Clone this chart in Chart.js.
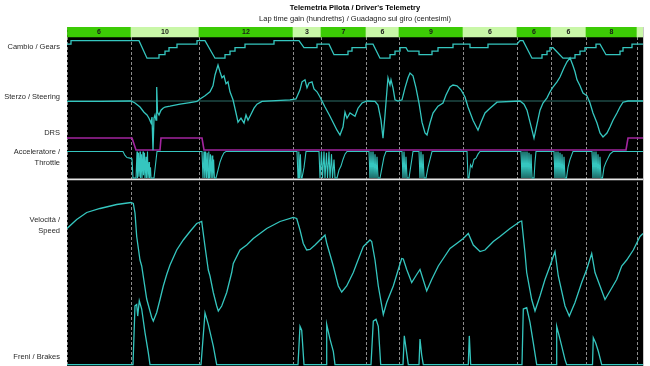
<!DOCTYPE html>
<html>
<head>
<meta charset="utf-8">
<title>Telemetria Pilota / Driver's Telemetry</title>
<script src="https://cdn.jsdelivr.net/npm/chart.js@4.4.1/dist/chart.umd.min.js"></script>
<style>
    body { margin: 0; background: #fff; }
    #wrap { width: 650px; height: 366px; }
</style>
</head>
<body>
<div id="wrap"><canvas id="telemetry" width="650" height="366"></canvas></div>
<script>
// distance along the lap, metres
const lapLength = 5760;

// mini sectors: where each one ends, and the gain written in the green strip
const sectorEnds = [640, 1320, 2260, 2540, 2990, 3320, 3960, 4500, 4840, 5190, 5700, 5760];
const sectorGain = ['6', '10', '12', '3', '7', '6', '9', '6', '6', '6', '8', ''];

// [distance, gear]
const gears = [
    [0,7],[40,7],[40,8],[720,8],[800,3],[920,3],[920,4],[980,4],[980,5],[1020,5],[1020,6],[1100,6],[1100,7],
    [1300,7],[1300,8],[1380,8],[1480,3],[1580,3],[1580,4],[1630,4],[1630,5],[1680,5],[1680,6],[1780,6],[1780,7],
    [2070,7],[2070,8],[2320,8],[2370,6],[2500,6],[2500,7],[2620,7],[2670,4],[2810,4],[2810,5],[2850,5],[2850,6],
    [2990,6],[2990,7],[3060,7],[3130,3],[3230,3],[3230,4],[3280,4],[3280,5],[3330,5],[3330,6],[3390,6],[3410,5],
    [3520,5],[3520,4],[3650,4],[3650,5],[3710,5],[3710,6],[3860,6],[3860,7],[4030,7],[4030,6],[4210,6],[4210,7],
    [4500,7],[4530,8],[4560,8],[4650,3],[4750,3],[4750,4],[4800,4],[4800,5],[4830,5],[4830,6],[4860,6],[4960,3],
    [5080,3],[5080,4],[5130,4],[5130,5],[5180,5],[5180,6],[5290,6],[5290,7],[5330,7],[5390,4],[5530,4],[5530,5],
    [5560,5],[5560,6],[5650,6],[5650,7],[5760,7]
];

// [distance, steering angle in degrees, left positive]
const steering = [
    [0,-1],[330,-1],[640,0],[680,-5],[730,-15],[770,-28],[800,-35],[820,-43],[840,-55],[850,-40],[860,-123],
    [870,-43],[880,-35],[890,-48],[897,35],[905,-28],[920,-35],[940,-23],[960,-18],[980,-15],[1030,-13],
    [1130,-8],[1230,-4],[1300,-1],[1330,5],[1380,13],[1430,23],[1460,38],[1480,65],[1510,90],[1530,73],
    [1550,58],[1570,63],[1590,43],[1610,48],[1630,23],[1660,3],[1690,-30],[1710,-53],[1740,-43],[1770,-55],
    [1790,-35],[1810,-48],[1840,-33],[1870,-18],[1900,-8],[1950,-1],[2230,3],[2290,5],[2330,28],[2350,48],
    [2380,53],[2400,33],[2420,45],[2450,48],[2470,30],[2500,23],[2530,10],[2580,-15],[2630,-38],[2700,-73],
    [2730,-85],[2760,-65],[2780,-28],[2800,-43],[2830,-30],[2880,-38],[2910,-18],[2950,-5],[3000,0],[3080,-1],
    [3110,-10],[3140,-48],[3160,-93],[3180,-35],[3200,28],[3210,58],[3230,40],[3240,53],[3260,33],[3280,3],
    [3310,0],[3350,3],[3380,33],[3410,58],[3430,70],[3460,63],[3490,33],[3520,-5],[3550,-53],[3580,-80],
    [3600,-85],[3630,-55],[3660,-30],[3710,-13],[3760,-5],[3790,15],[3830,35],[3860,40],[3900,38],[3940,28],
    [3980,10],[4010,-15],[4060,-48],[4110,-73],[4140,-53],[4180,-30],[4230,-18],[4300,-3],[4530,0],[4570,-8],
    [4600,-23],[4630,-53],[4670,-93],[4700,-58],[4730,-23],[4760,-5],[4800,8],[4830,23],[4860,35],[4900,48],
    [4930,60],[4970,83],[5000,98],[5030,108],[5060,88],[5080,73],[5100,53],[5130,38],[5160,20],[5200,13],
    [5230,-5],[5260,-30],[5300,-55],[5330,-80],[5360,-90],[5400,-80],[5430,-65],[5460,-48],[5500,-30],
    [5530,-15],[5560,-3],[5610,0],[5760,0]
];
const steeringZero = [[0,0],[5760,0]];

// [distance, DRS open 1 / closed 0]
const drs = [[0,1],[650,1],[690,0],[930,0],[940,1],[1350,1],[1370,0],[5590,0],[5610,1],[5760,1]];

// [distance, throttle %]
const throttle = [
    [0,100],[560,100],[580,85],[600,77],[630,75],[650,72],[660,0],[690,0],[700,100],[705,0],[715,95],[720,5],
    [730,100],[735,0],[745,90],[750,0],[760,100],[765,10],[775,95],[780,0],[790,80],[795,0],[805,100],[810,0],
    [820,60],[825,0],[835,40],[840,0],[870,0],[885,50],[900,100],
    [1350,100],[1360,0],[1370,100],[1378,0],[1386,100],[1394,0],[1402,95],[1410,0],[1418,100],[1426,0],
    [1434,90],[1442,0],[1450,85],[1458,0],[1466,70],[1474,0],[1490,0],[1510,30],[1530,60],[1550,80],[1570,95],[1590,100],
    [2300,100],[2310,0],[2318,100],[2326,0],[2334,90],[2342,0],[2350,0],[2370,40],[2390,100],
    [2520,100],[2530,0],[2545,100],[2555,0],[2570,100],[2580,0],[2595,95],[2605,0],[2620,100],[2630,0],
    [2645,90],[2655,0],[2670,70],[2680,0],[2700,0],[2720,30],[2740,45],[2760,70],[2780,90],[2800,100],
    [3020,100],[3030,0],[3040,100],[3050,0],[3060,100],[3070,0],[3080,90],[3090,0],[3100,80],[3110,0],
    [3130,0],[3150,40],[3170,80],[3190,100],
    [3350,100],[3360,0],[3370,100],[3380,0],[3390,80],[3400,0],[3420,0],[3440,50],[3460,100],
    [3520,100],[3530,0],[3540,100],[3550,0],[3560,90],[3570,0],[3590,0],[3610,40],[3630,70],[3650,100],
    [4000,100],[4010,0],[4020,0],[4035,50],[4050,40],[4070,70],[4090,75],[4110,90],[4130,100],
    [4540,100],[4550,0],[4560,100],[4570,0],[4580,100],[4590,0],[4600,100],[4610,0],[4620,95],[4630,0],
    [4640,90],[4650,0],[4670,0],[4680,60],[4690,100],
    [4870,100],[4880,0],[4890,100],[4900,0],[4910,100],[4920,0],[4930,95],[4940,0],[4950,90],[4960,0],
    [4970,80],[4980,0],[4995,0],[5010,40],[5030,70],[5050,90],[5060,100],
    [5250,100],[5260,0],[5270,100],[5280,0],[5290,100],[5300,0],[5310,90],[5320,0],[5330,80],[5340,0],
    [5355,0],[5370,40],[5390,60],[5410,75],[5430,90],[5460,100],
    [5760,100]
];
const throttleFloor = [[0,-5],[5760,-5]];

// [distance, speed km/h]
const speed = [
    [0,267],[97,285],[197,299],[330,307],[497,315],[640,319],[663,317],[680,298],[697,251],[730,204],[747,192],
    [797,126],[847,89],[863,82],[897,99],[930,125],[963,152],[997,175],[1030,194],[1097,224],[1163,244],
    [1230,261],[1297,277],[1347,281],[1380,231],[1413,184],[1430,172],[1463,139],[1497,112],[1513,102],
    [1547,112],[1597,139],[1647,179],[1663,197],[1730,224],[1797,234],[1863,247],[1997,267],[2130,281],
    [2263,289],[2297,287],[2330,264],[2363,237],[2397,224],[2430,225],[2480,234],[2530,244],[2580,254],
    [2597,238],[2663,192],[2713,152],[2747,140],[2797,152],[2863,179],[2897,197],[2963,231],[3030,244],
    [3047,241],[3080,204],[3113,152],[3163,95],[3197,119],[3263,152],[3313,185],[3347,207],[3363,206],
    [3397,185],[3447,159],[3497,175],[3530,185],[3597,142],[3647,165],[3713,192],[3763,207],[3830,227],
    [3897,237],[3963,247],[4013,257],[4063,234],[4130,221],[4180,224],[4263,241],[4330,251],[4430,267],
    [4530,281],[4547,282],[4580,218],[4597,179],[4647,125],[4680,102],[4730,132],[4780,165],[4830,192],
    [4880,221],[4913,172],[4980,112],[5023,92],[5080,119],[5147,159],[5197,185],[5247,217],[5280,179],
    [5330,152],[5380,125],[5430,142],[5497,165],[5547,192],[5597,204],[5663,224],[5730,251],[5760,257]
];

// [distance, brake pressure %]
const brakes = [
    [0,0],[660,0],[680,92],[697,94],[707,76],[723,100],[747,87],[780,50],[813,19],[830,0],
    [1340,0],[1380,81],[1413,63],[1463,29],[1497,0],
    [2310,0],[2330,60],[2347,54],[2370,0],
    [2590,0],[2597,63],[2630,40],[2663,21],[2680,0],
    [3040,0],[3063,68],[3090,71],[3113,60],[3137,0],
    [3360,0],[3373,45],[3390,26],[3413,0],
    [3520,0],[3530,40],[3547,15],[3563,0],
    [4013,0],[4023,45],[4037,0],
    [4550,0],[4563,87],[4597,89],[4630,66],[4663,34],[4697,0],
    [4890,0],[4897,60],[4930,40],[4980,8],[4997,0],
    [5255,0],[5263,42],[5287,34],[5313,21],[5347,0],
    [5760,0]
];

const FONT = 'Liberation Sans, Arial, sans-serif';
const CYAN = '#35c6bf';

// every trace shares the full plot height; each hidden axis is ranged so its
// trace sits in its own band (two reference values -> two pixel rows)
const AREA_TOP = 27, AREA_H = 339;
function band(v1, p1, v2, p2) {
    const k = (v1 - v2) / (p2 - p1);
    const max = v1 + (p1 - AREA_TOP) * k;
    return { type: 'linear', display: false, offset: false, min: max - AREA_H * k, max: max };
}

const sectorStarts = [0].concat(sectorEnds.slice(0, -1));
const sectorBars = sectorEnds.map((end, i) => ({ x: [sectorStarts[i], end], y: 0 }));

const blackPlot = {
    id: 'blackPlot',
    beforeDraw(chart) {
        const { ctx, chartArea: a } = chart;
        ctx.save();
        ctx.fillStyle = '#000';
        ctx.fillRect(a.left, a.top, a.right - a.left, a.bottom - a.top);
        ctx.strokeStyle = '#c8c8c8';
        ctx.lineWidth = 1;
        ctx.beginPath();
        ctx.moveTo(a.right + 0.5, a.top);
        ctx.lineTo(a.right + 0.5, a.bottom);
        ctx.stroke();
        ctx.restore();
    }
};

const stripText = {
    id: 'stripText',
    afterDatasetsDraw(chart) {
        const { ctx, scales } = chart;
        const y = scales.yBar.getPixelForValue(0);
        ctx.save();
        ctx.font = 'bold 7px ' + FONT;
        ctx.fillStyle = '#1a1a1a';
        ctx.textAlign = 'center';
        ctx.textBaseline = 'middle';
        sectorGain.forEach((g, i) => {
            const x = scales.x.getPixelForValue((sectorStarts[i] + sectorEnds[i]) / 2);
            ctx.fillText(g, x, y + 0.5);
        });
        ctx.restore();
    }
};

const panelNames = {
    id: 'panelNames',
    afterDraw(chart) {
        const { ctx, scales, chartArea } = chart;
        const names = [
            { axis: 'yGear', at: 6.3, text: ['Cambio / Gears'] },
            { axis: 'ySteer', at: 10, text: ['Sterzo / Steering'] },
            { axis: 'yDrs', at: 1.39, text: ['DRS'] },
            { axis: 'yThr', at: 79, text: ['Acceleratore /', 'Throttle'] },
            { axis: 'ySpeed', at: 274, text: ['Velocità /', 'Speed'] },
            { axis: 'yBrake', at: 12, text: ['Freni / Brakes'] }
        ];
        ctx.save();
        ctx.font = '7.5px ' + FONT;
        ctx.fillStyle = '#2a2a2a';
        ctx.textAlign = 'right';
        ctx.textBaseline = 'middle';
        names.forEach(n => {
            const yc = scales[n.axis].getPixelForValue(n.at);
            const top = yc - (n.text.length - 1) * 5.5;
            n.text.forEach((t, i) => ctx.fillText(t, chartArea.left - 7, top + i * 11));
        });
        ctx.restore();
    }
};

function trace(label, data, axis, color, order, width) {
    return {
        type: 'line', label: label, data: data, yAxisID: axis, xAxisID: 'x',
        borderColor: color, borderWidth: width || 1.3, pointRadius: 0,
        tension: 0, fill: false, order: order
    };
}

new Chart(document.getElementById('telemetry'), {
    type: 'line',
    data: {
        datasets: [
            {
                type: 'bar', label: 'gain', data: sectorBars, indexAxis: 'y',
                xAxisID: 'x', yAxisID: 'yBar', barThickness: 10, borderWidth: 0,
                backgroundColor: sectorEnds.map((e, i) => i % 2 === 0 ? '#3ccb05' : '#c9f7a8'),
                order: 0
            },
            trace('steering zero', steeringZero, 'ySteer', '#2c6e69', 9, 1),
            trace('floor', throttleFloor, 'yThr', '#e6e6e6', 9, 1.6),
            trace('Cambio / Gears', gears, 'yGear', CYAN, 2),
            trace('Sterzo / Steering', steering, 'ySteer', CYAN, 2),
            trace('DRS', drs, 'yDrs', '#a3259f', 3, 1.6),
            trace('Acceleratore / Throttle', throttle, 'yThr', CYAN, 2, 1.1),
            trace('Velocità / Speed', speed, 'ySpeed', CYAN, 2),
            trace('Freni / Brakes', brakes, 'yBrake', CYAN, 2)
        ]
    },
    options: {
        responsive: false,
        animation: false,
        events: [],
        devicePixelRatio: 1,
        layout: { padding: { left: 67, right: 7, top: 0, bottom: 0 } },
        plugins: {
            legend: { display: false },
            tooltip: { enabled: false },
            title: {
                display: true, fullSize: false, color: '#000',
                text: "Telemetria Pilota / Driver's Telemetry",
                font: { family: FONT, size: 7.5, weight: 'bold' },
                padding: { top: 3, bottom: 2 }
            },
            subtitle: {
                display: true, fullSize: false, color: '#222',
                text: 'Lap time gain (hundreths) / Guadagno sul giro (centesimi)',
                font: { family: FONT, size: 7.5 },
                padding: { top: 0, bottom: 4 }
            }
        },
        scales: {
            x: {
                type: 'linear', min: 0, max: lapLength, offset: false,
                afterBuildTicks: axis => { axis.ticks = sectorStarts.map(v => ({ value: v })); },
                ticks: { display: false },
                grid: { color: '#8c8c8c', lineWidth: 1, drawTicks: false },
                border: { display: false, dash: [3, 2] }
            },
            yBar: band(0, 32, 1, 22),
            yGear: band(8, 40.7, 3, 58.2),
            ySteer: band(0, 101, 100, 61),
            yDrs: band(1, 138, 0, 150),
            yThr: band(100, 151.5, 0, 178),
            ySpeed: band(320, 202, 80, 322),
            yBrake: band(100, 300.7, 0, 364.7)
        }
    },
    plugins: [blackPlot, stripText, panelNames]
});
</script>
</body>
</html>
